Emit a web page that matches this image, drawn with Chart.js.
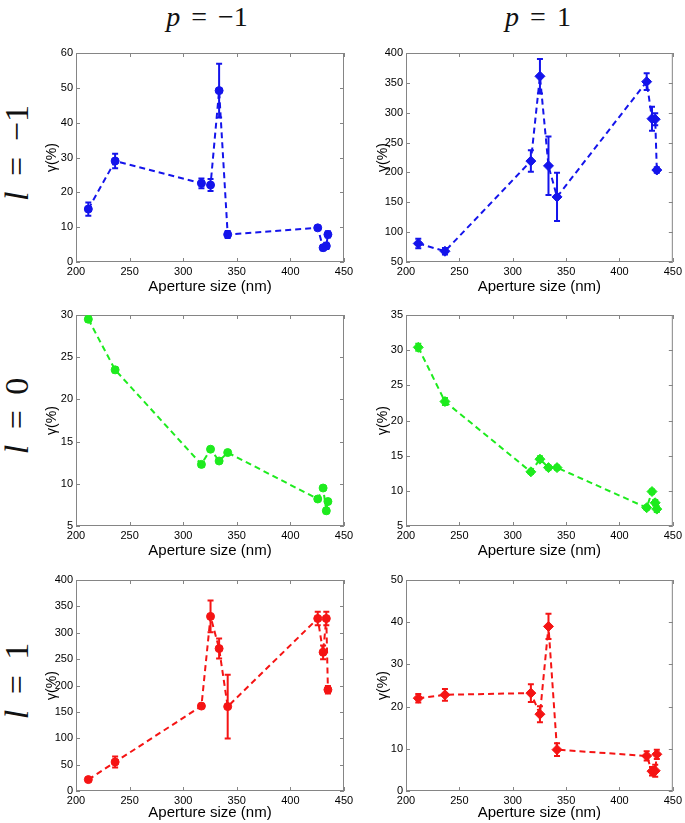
<!DOCTYPE html>
<html>
<head>
<meta charset="utf-8">
<script src="https://cdn.jsdelivr.net/npm/chart.js@4.4.1/dist/chart.umd.min.js"></script>
<style>
  html, body { margin: 0; padding: 0; background: #fff; overflow: hidden; }
  body { width: 685px; height: 823px; position: relative; }
  canvas { position: absolute; }
  .lbl { position: absolute; font-family: 'Liberation Serif', 'DejaVu Serif', serif; color: #111; white-space: nowrap; transform: translate(-50%, -50%); word-spacing: 4px; }
  .lbl i { font-style: italic; }
  .side { transform: translate(-50%, -50%) rotate(-90deg); word-spacing: 7px; }
</style>
</head>
<body>
<div class="lbl" style="left:207px; top:17px; font-size:28px;"><i>p</i> = −1</div>
<div class="lbl" style="left:538px; top:17px; font-size:28px;"><i>p</i> = 1</div>
<div class="lbl side" style="left:17px; top:153px; font-size:34px;"><i>l</i> = −1</div>
<div class="lbl side" style="left:17px; top:416px; font-size:34px;"><i>l</i> = 0</div>
<div class="lbl side" style="left:17px; top:681px; font-size:34px;"><i>l</i> = 1</div>
<canvas id="c00"></canvas>
<canvas id="c01"></canvas>
<canvas id="c10"></canvas>
<canvas id="c11"></canvas>
<canvas id="c20"></canvas>
<canvas id="c21"></canvas>
<script>
// aperture sizes (nm), same for every panel
const apertureNm = [211.5, 236.5, 317, 325.5, 333.5, 341.5, 425.5, 430.5, 433.5, 435];
const xTicks = [200, 250, 300, 350, 400, 450];

// l = -1
const gammaLm1Pm1 = [15.2, 29, 22.6, 22.1, 49.2, 7.9, 9.8, 4.1, 4.6, 7.9];
const errLm1Pm1 = [1.9, 2.1, 1.4, 1.7, 7.7, 1.0, 0.4, 0.7, 0.9, 0.9];
const gammaLm1Pp1 = [81, 68, 219, 361, 211, 159, 352, 290, 289, 204];
const errLm1Pp1 = [8, 5.5, 18, 29, 49, 40.5, 14, 20, 10, 4.5];

// l = 0
const gammaL0Pm1 = [29.5, 23.5, 12.3, 14.1, 12.7, 13.7, 8.2, 9.5, 6.8, 7.9];
const errL0Pm1 = [0.3, 0.3, 0.3, 0.2, 0.2, 0.2, 0.2, 0.2, 0.3, 0.3];
const gammaL0Pp1 = [30.4, 22.7, 12.7, 14.5, 13.3, 13.3, 7.6, 9.9, 8.3, 7.4];
const errL0Pp1 = [0.5, 0.5, 0.3, 0.4, 0.3, 0.3, 0.3, 0.3, 0.4, 0.4];

// l = 1
const gammaL1Pm1 = [21.6, 55, 161, 331, 270, 160, 327, 263, 327, 192];
const errL1Pm1 = [3, 10.5, 2, 30, 19, 60.5, 13, 13, 13, 7];
const gammaL1Pp1 = [22.0, 22.8, 23.2, 18.2, 39, 9.8, 8.3, 4.7, 4.8, 8.7];
const errL1Pp1 = [1, 1.4, 2.1, 1.9, 3, 1.5, 1.1, 1, 1.4, 1.1];

// y tick labels per panel
const yTicksLm1Pm1 = [0, 10, 20, 30, 40, 50, 60];
const yTicksLm1Pp1 = [50, 100, 150, 200, 250, 300, 350, 400];
const yTicksL0Pm1 = [5, 10, 15, 20, 25, 30];
const yTicksL0Pp1 = [5, 10, 15, 20, 25, 30, 35];
const yTicksL1Pm1 = [0, 50, 100, 150, 200, 250, 300, 350, 400];
const yTicksL1Pp1 = [0, 10, 20, 30, 40, 50];

// page layout
const cols = [
  { cl: 0, cw: 358, left: 76, right: 344, titleX: 52 },
  { cl: 345, cw: 340, left: 406, right: 674, titleX: 383 }
];
const rows = [
  { top: 53, bottom: 262, xh: 34 },
  { top: 315, bottom: 526, xh: 34 },
  { top: 580, bottom: 791, xh: 31 }
];
const blue = 'rgb(20,20,235)', green = 'rgb(30,235,30)', red = 'rgb(245,20,20)';
const frameColor = '#858585';

const framePlugin = {
  id: 'frame',
  beforeDatasetsDraw(chart) {
    const { ctx, chartArea: a, scales: { x, y } } = chart;
    ctx.save();
    ctx.strokeStyle = frameColor;
    ctx.lineWidth = 1;
    ctx.strokeRect(a.left + 0.5, a.top + 0.5, a.width - 1, a.height - 1);
    ctx.beginPath();
    x.ticks.forEach(t => {
      const px = Math.round(x.getPixelForValue(t.value)) + 0.5;
      ctx.moveTo(px, a.bottom); ctx.lineTo(px, a.bottom - 4);
      ctx.moveTo(px, a.top); ctx.lineTo(px, a.top + 4);
    });
    y.ticks.forEach(t => {
      const py = Math.round(y.getPixelForValue(t.value)) + 0.5;
      ctx.moveTo(a.left, py); ctx.lineTo(a.left + 4, py);
      ctx.moveTo(a.right, py); ctx.lineTo(a.right - 4, py);
    });
    ctx.stroke();
    ctx.restore();
  }
};

const errorBarPlugin = {
  id: 'errbars',
  afterDatasetsDraw(chart) {
    const { ctx, scales: { y } } = chart;
    chart.data.datasets.forEach((ds, di) => {
      const meta = chart.getDatasetMeta(di);
      ctx.save();
      ctx.strokeStyle = ds.borderColor;
      ctx.lineWidth = 2;
      ds.data.forEach((pt, i) => {
        const e = ds.errors[i];
        const px = meta.data[i].x;
        const hi = y.getPixelForValue(pt.y + e);
        const lo = y.getPixelForValue(pt.y - e);
        ctx.beginPath();
        ctx.moveTo(px, hi); ctx.lineTo(px, lo);
        ctx.moveTo(px - 3, hi); ctx.lineTo(px + 3, hi);
        ctx.moveTo(px - 3, lo); ctx.lineTo(px + 3, lo);
        ctx.stroke();
      });
      ctx.restore();
    });
  }
};

function makePanel(id, r, c, values, errors, yTicks, color, marker) {
  const row = rows[r], col = cols[c];
  const canvas = document.getElementById(id);
  const top = row.top - 13;
  canvas.width = col.cw;
  canvas.height = row.bottom + row.xh - top;
  canvas.style.left = col.cl + 'px';
  canvas.style.top = top + 'px';
  const tickFont = { family: "'Liberation Sans', Arial, sans-serif", size: 11 };
  new Chart(canvas, {
    type: 'line',
    data: {
      datasets: [{
        data: apertureNm.map((x, i) => ({ x: x, y: values[i] })),
        errors: errors,
        borderColor: color,
        backgroundColor: color,
        borderWidth: 2,
        borderDash: [6, 4],
        tension: 0,
        pointStyle: marker,
        pointRadius: marker === 'circle' ? 4 : 5,
        pointBackgroundColor: color,
        pointBorderColor: color,
        pointBorderWidth: 1
      }]
    },
    options: {
      responsive: false,
      animation: false,
      devicePixelRatio: 1,
      layout: { padding: { top: 13, right: col.cw - (col.right - col.cl), bottom: 0, left: 0 } },
      plugins: { legend: { display: false }, tooltip: { enabled: false } },
      scales: {
        x: {
          type: 'linear',
          min: xTicks[0],
          max: xTicks[xTicks.length - 1],
          grid: { display: false, drawTicks: false },
          border: { display: false },
          ticks: { stepSize: xTicks[1] - xTicks[0], autoSkip: false, maxRotation: 0, padding: 3, color: '#000', font: tickFont },
          title: { display: true, text: 'Aperture size (nm)', color: '#000', padding: { top: 0, bottom: 0 },
                   font: { family: "'Liberation Sans', Arial, sans-serif", size: 15 } },
          afterFit(scale) { scale.height = row.xh; }
        },
        y: {
          min: yTicks[0],
          max: yTicks[yTicks.length - 1],
          grid: { display: false, drawTicks: false },
          border: { display: false },
          ticks: { stepSize: yTicks[1] - yTicks[0], autoSkip: false, padding: 3, color: '#000', font: tickFont },
          title: { display: true, text: 'γ(%)', color: '#000', padding: { top: col.titleX - col.cl - 8.4, bottom: 0 },
                   font: { family: "'Liberation Sans', Arial, sans-serif", size: 14 } },
          afterFit(scale) { scale.width = col.left - col.cl; }
        }
      }
    },
    plugins: [framePlugin, errorBarPlugin]
  });
}

makePanel('c00', 0, 0, gammaLm1Pm1, errLm1Pm1, yTicksLm1Pm1, blue, 'circle');
makePanel('c01', 0, 1, gammaLm1Pp1, errLm1Pp1, yTicksLm1Pp1, blue, 'rectRot');
makePanel('c10', 1, 0, gammaL0Pm1, errL0Pm1, yTicksL0Pm1, green, 'circle');
makePanel('c11', 1, 1, gammaL0Pp1, errL0Pp1, yTicksL0Pp1, green, 'rectRot');
makePanel('c20', 2, 0, gammaL1Pm1, errL1Pm1, yTicksL1Pm1, red, 'circle');
makePanel('c21', 2, 1, gammaL1Pp1, errL1Pp1, yTicksL1Pp1, red, 'rectRot');
</script>
</body>
</html>
